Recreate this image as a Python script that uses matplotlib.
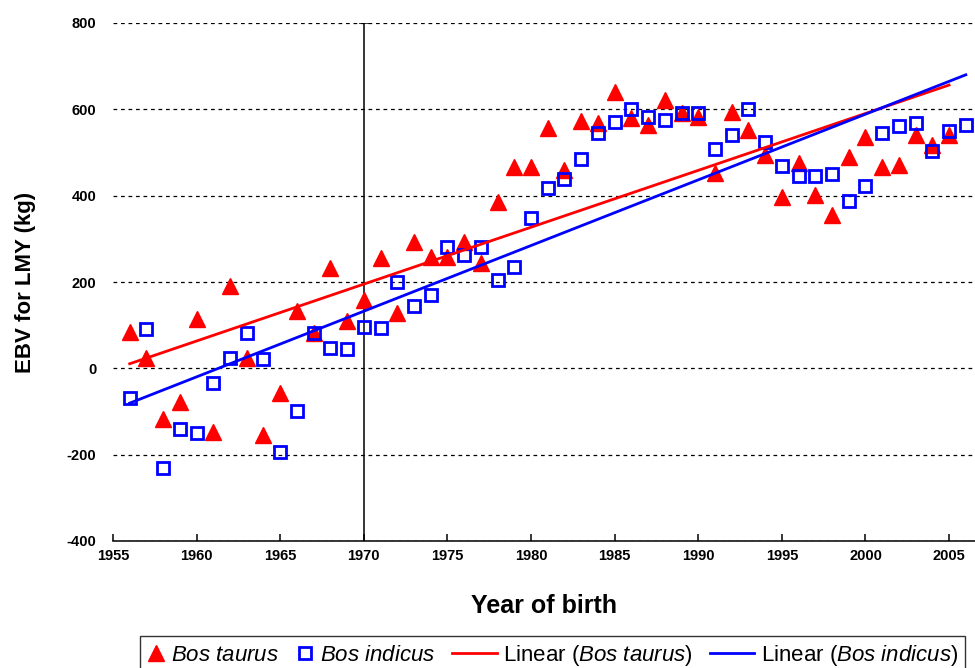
import numpy as np
import matplotlib
matplotlib.use("Agg")
import matplotlib.pyplot as plt
from matplotlib.legend_handler import HandlerLine2D

# values
years_taurus = list(range(1956, 2006))
ebv_taurus = [84, 25, -118, -77, 115, -148, 190, 25, -155, -57,
              132, 83, 233, 109, 159, 256, 128, 293, 258, 258,
              293, 244, 385, 467, 467, 557, 460, 573, 568, 641,
              580, 564, 622, 592, 582, 452, 594, 552, 494, 397,
              475, 402, 355, 490, 536, 467, 471, 541, 518, 541]

years_indicus = list(range(1956, 2007))
ebv_indicus = [-68, 91, -231, -140, -150, -34, 24, 82, 22, -193,
               -98, 82, 47, 45, 96, 94, 199, 145, 170, 281,
               263, 281, 205, 235, 348, 418, 439, 485, 545, 571,
               601, 582, 575, 592, 592, 508, 541, 601, 525, 469,
               446, 446, 450, 388, 423, 545, 561, 568, 504, 550, 564]

x_ticks = list(range(1955, 2006, 5))
y_ticks = list(range(-400, 801, 200))

plt.rcParams['font.family'] = ['Liberation Sans', 'DejaVu Sans']
plt.rcParams['axes.unicode_minus'] = False
plt.rcParams['mathtext.fontset'] = 'custom'
plt.rcParams['mathtext.rm'] = 'Liberation Sans'
plt.rcParams['mathtext.it'] = 'Liberation Sans:italic'


class ShortHandler(HandlerLine2D):
    """marker-only legend entries get a narrow handle box"""
    def legend_artist(self, legend, orig_handle, fontsize, handlebox):
        handlebox.width = 0.8 * fontsize
        return super().legend_artist(legend, orig_handle, fontsize, handlebox)


fig = plt.figure(figsize=(9.75, 6.68), dpi=100)
ax = fig.add_axes([113 / 975, 1 - 541 / 668, 1 - 113 / 975, (541 - 23) / 668])

# dashed horizontal gridlines
ax.set_axisbelow(True)
ax.yaxis.grid(True, linestyle=(0, (3, 3)), color='black', lw=0.9)

# vertical axis crossing at 1970
ax.axvline(1970, color='black', lw=1.1, zorder=1)
ax.plot([1970], [800], ls='none', marker='_', ms=7,
        mew=1.1, color='black', zorder=1)

taurus_pts, = ax.plot(years_taurus, ebv_taurus, ls='none', marker='^', ms=11,
                      color='#ff0000', mec='#ff0000', label=r'$\mathit{Bos\ taurus}$', zorder=3)
indicus_pts, = ax.plot(years_indicus, ebv_indicus, ls='none', marker='s', ms=8.5,
                       mfc='none', mec='#0000ff', mew=2, label=r'$\mathit{Bos\ indicus}$', zorder=4)

# linear trendlines
yt = np.array(years_taurus)
p = np.polyfit(yt, ebv_taurus, 1)
ax.plot(yt[[0, -1]], np.polyval(p, yt[[0, -1]]), color='#ff0000', lw=2,
        label=r'Linear ($\mathit{Bos\ taurus}$)', zorder=5)
yi = np.array(years_indicus)
q = np.polyfit(yi, ebv_indicus, 1)
ax.plot(yi[[0, -1]], np.polyval(q, yi[[0, -1]]), color='#0000ff', lw=2,
        label=r'Linear ($\mathit{Bos\ indicus}$)', zorder=5)

ax.set_xlim(1955, 2006.55)
ax.set_ylim(-400, 800)
ax.set_xticks(x_ticks)
ax.set_yticks(y_ticks)

for s in ['top', 'right', 'left']:
    ax.spines[s].set_visible(False)
ax.spines['bottom'].set_linewidth(1.1)

ax.tick_params(axis='x', direction='in', length=5, width=1.1, pad=6)
ax.tick_params(axis='y', length=0, pad=12)
for lab in ax.get_xticklabels() + ax.get_yticklabels():
    lab.set_fontweight('bold')
    lab.set_fontsize(10.5)

ax.set_xlabel('Year of birth', fontsize=18, fontweight='bold', va='center')
ax.xaxis.set_label_coords(0.5, -0.125)
ax.set_ylabel('EBV for LMY (kg)', fontsize=16, fontweight='bold', va='center')
ax.yaxis.set_label_coords(-0.102, 0.5)

short = ShortHandler()
leg = fig.legend(loc='upper left', bbox_to_anchor=(140 / 975, 1 - 636 / 668),
                 ncol=4, fontsize=16, frameon=True, fancybox=False,
                 edgecolor='black', handlelength=2.0, handletextpad=0.3,
                 columnspacing=0.75, borderpad=0.3, borderaxespad=0,
                 handler_map={taurus_pts: short, indicus_pts: short})
leg.get_frame().set_linewidth(1.0)

fig.savefig('out.png', dpi=100)
